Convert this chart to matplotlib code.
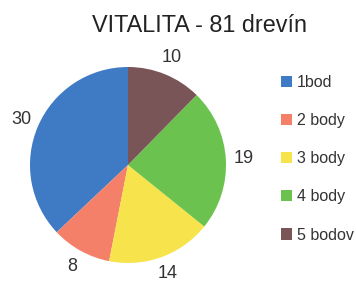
import matplotlib
matplotlib.use("Agg")
import matplotlib.pyplot as plt
from matplotlib.patches import Patch

plt.rcParams['font.family'] = ['Liberation Sans', 'DejaVu Sans']

title = "VITALITA - 81 drevín"
categories = ["1bod", "2 body", "3 body", "4 body", "5 bodov"]
values = [30, 8, 14, 19, 10]
colors = ["#3f7bc4", "#f4806a", "#f7e34b", "#6cc24e", "#7a5558"]

W, H = 356, 281
fig = plt.figure(figsize=(W / 100, H / 100), dpi=100)
cx, cy, r = 128, 165, 98
ax = fig.add_axes([(cx - r) / W, (H - cy - r) / H, 2 * r / W, 2 * r / H])
wedges, texts = ax.pie(values, colors=colors, startangle=90, counterclock=True,
                       labels=[str(v) for v in values], labeldistance=1.18,
                       textprops=dict(fontsize=13, color="#333333"),
                       wedgeprops=dict(linewidth=0))
for t in texts:
    t.set_ha("center")
    t.set_va("center")
ax.set_xlim(-1, 1)
ax.set_ylim(-1, 1)
ax.set_aspect("equal")
ax.axis("off")

fig.text(199 / W, 1 - 25 / H, title, ha="center", va="center", fontsize=16.8, color="#222222")

handles = [Patch(facecolor=c, edgecolor="none") for c in colors]
fig.legend(handles, categories, loc="upper left", bbox_to_anchor=(281 / W, 1 - 75 / H),
           frameon=False, fontsize=11.5, handlelength=0.7, handleheight=0.7,
           handletextpad=0.3, labelspacing=1.45, borderpad=0, borderaxespad=0)
for t in fig.legends[0].get_texts():
    t.set_color("#333333")

fig.savefig("out.png", dpi=100)
